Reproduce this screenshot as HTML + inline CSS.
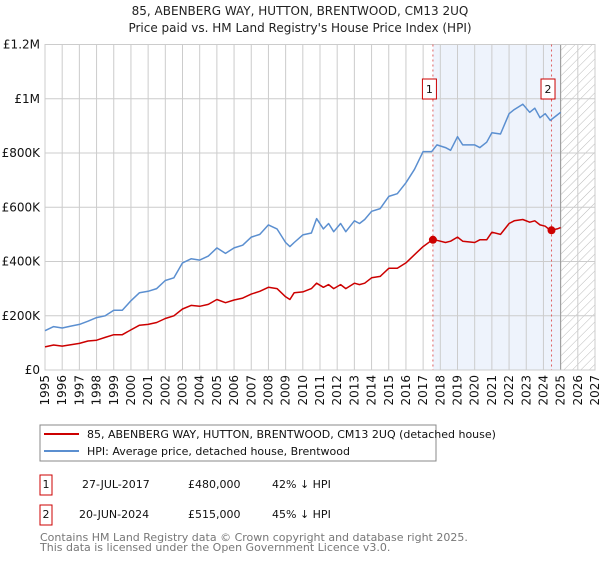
<!DOCTYPE html>
<html><head><meta charset="utf-8"><style>
body{margin:0;background:#fff;font-family:"Liberation Sans","DejaVu Sans",sans-serif;}
svg text{font-family:"DejaVu Sans","Liberation Sans",sans-serif;}
</style></head><body>
<svg id="c" width="600" height="560">
<defs><pattern id="hatch" width="6" height="6" patternUnits="userSpaceOnUse" patternTransform="rotate(45)"><line x1="0" y1="0" x2="0" y2="6" stroke="#bbb" stroke-width="1"/></pattern></defs>
<text x="300" y="15" text-anchor="middle" font-size="12" fill="#222">85, ABENBERG WAY, HUTTON, BRENTWOOD, CM13 2UQ</text>
<text x="300" y="32" text-anchor="middle" font-size="12" fill="#222">Price paid vs. HM Land Registry's House Price Index (HPI)</text>
<g id="plot"></g>
<rect x="40" y="425" width="396" height="36" fill="#fff" stroke="#888"/>
<line x1="44" y1="434" x2="79" y2="434" stroke="#cc0000" stroke-width="2"/>
<text x="87" y="438" font-size="11" fill="#111">85, ABENBERG WAY, HUTTON, BRENTWOOD, CM13 2UQ (detached house)</text>
<line x1="44" y1="451" x2="79" y2="451" stroke="#5b8fd0" stroke-width="2"/>
<text x="87" y="455" font-size="11" fill="#111">HPI: Average price, detached house, Brentwood</text>
<rect x="40" y="475" width="12" height="20" fill="#fff" stroke="#cc0000"/>
<text x="46" y="488" font-size="11" text-anchor="middle" fill="#111">1</text>
<text x="82" y="488" font-size="11" fill="#111">27-JUL-2017</text>
<text x="188" y="488" font-size="11" fill="#111">£480,000</text>
<text x="272" y="488" font-size="11" fill="#111">42% ↓ HPI</text>
<rect x="40" y="505" width="12" height="20" fill="#fff" stroke="#cc0000"/>
<text x="46" y="518" font-size="11" text-anchor="middle" fill="#111">2</text>
<text x="79" y="518" font-size="11" fill="#111">20-JUN-2024</text>
<text x="188" y="518" font-size="11" fill="#111">£515,000</text>
<text x="272" y="518" font-size="11" fill="#111">45% ↓ HPI</text>
<text x="40" y="541" font-size="11" fill="#777">Contains HM Land Registry data © Crown copyright and database right 2025.</text>
<text x="40" y="551" font-size="11" fill="#777">This data is licensed under the Open Government Licence v3.0.</text>
</svg>
<script>
const hpiYears=[1995,1995.5,1996,1996.5,1997,1997.5,1998,1998.5,1999,1999.5,2000,2000.5,2001,2001.5,2002,2002.5,2003,2003.5,2004,2004.5,2005,2005.5,2006,2006.5,2007,2007.5,2008,2008.5,2009,2009.25,2009.5,2010,2010.5,2010.8,2011.2,2011.5,2011.8,2012.2,2012.5,2013,2013.3,2013.6,2014,2014.5,2015,2015.5,2016,2016.5,2017,2017.5,2017.8,2018.3,2018.6,2019,2019.3,2020,2020.3,2020.7,2021,2021.5,2022,2022.3,2022.8,2023.2,2023.5,2023.8,2024.1,2024.4,2024.8,2025];
const hpiValues=[145,160,155,162,168,180,193,200,220,220,255,285,290,300,330,340,395,410,405,420,450,430,450,460,490,500,535,520,470,455,470,498,505,558,520,540,510,540,510,550,540,555,585,595,640,650,690,740,805,805,830,820,810,860,830,830,820,840,875,870,945,960,980,950,965,930,945,920,940,950];
const ppYears=hpiYears;
const ppValues=[85,92,88,93,98,107,110,120,130,130,148,165,168,175,190,200,225,238,235,242,260,248,258,265,280,290,305,300,270,260,285,288,300,320,305,315,300,315,300,320,315,320,340,345,375,375,395,425,455,478,478,470,475,490,475,470,480,480,508,500,540,550,555,545,550,535,530,515,520,525];
const saleYears=[2017.57,2024.47];
const saleValues=[480,515];
const saleLabels=["1","2"];
const yTicks=[0,200,400,600,800,1000,1200];
const yTickLabels=["£0","£200K","£400K","£600K","£800K","£1M","£1.2M"];
const xTicks=[1995,1996,1997,1998,1999,2000,2001,2002,2003,2004,2005,2006,2007,2008,2009,2010,2011,2012,2013,2014,2015,2016,2017,2018,2019,2020,2021,2022,2023,2024,2025,2026,2027];

const X0=45,X1=595,Y0=370,Y1=44.5;
const xs=y=>X0+(y-1995)/(2027-1995)*(X1-X0);
const ys=v=>Y0-v/1200*(Y0-Y1);
const NS="http://www.w3.org/2000/svg";
const g=document.getElementById('plot');
function mk(t,a,p){const e=document.createElementNS(NS,t);for(const k in a)e.setAttribute(k,a[k]);(p||g).appendChild(e);return e;}

let e=mk('rect',{x:xs(saleYears[0]),y:Y1,width:xs(2025)-xs(saleYears[0]),height:Y0-Y1,fill:'#eef3fc'});


e=mk('rect',{x:xs(2025),y:Y1,width:X1-xs(2025),height:Y0-Y1,fill:'url(#hatch)'});


yTicks.forEach((v,i)=>{
  mk('line',{x1:X0,x2:X1,y1:ys(v),y2:ys(v),stroke:'#ccc','stroke-width':1});
  const t=mk('text',{x:X0-5,y:ys(v)+4,'text-anchor':'end','font-size':12,fill:'#111'});
  t.textContent=yTickLabels[i];
  
  
});
xTicks.forEach(y=>{
  mk('line',{x1:xs(y),x2:xs(y),y1:Y1,y2:Y0,stroke:'#ccc','stroke-width':1});
  const t=mk('text',{x:0,y:0,'text-anchor':'end','font-size':12,fill:'#111',transform:`translate(${xs(y)+4},${Y0+5}) rotate(-90)`});
  t.textContent=y;
  
  
});
mk('line',{x1:xs(2025),x2:xs(2025),y1:Y1,y2:Y0,stroke:'#999','stroke-width':1});
mk('rect',{x:X0,y:Y1,width:X1-X0,height:Y0-Y1,fill:'none',stroke:'#ccc'});
saleYears.forEach((y,i)=>{
  e=mk('line',{x1:xs(y),x2:xs(y),y1:Y1,y2:Y0,stroke:'#e06060','stroke-dasharray':'2,3','stroke-width':1});
  
  
  const bx=xs(y)-3.5;
  e=mk('rect',{x:bx-7,y:79,width:14,height:20,fill:'#fff',stroke:'#cc0000'});
  
  
  const t=mk('text',{x:bx,y:93,'text-anchor':'middle','font-size':11,fill:'#111'});t.textContent=saleLabels[i];
});
function path(xsArr,vs,col,name){
  const d=xsArr.map((y,i)=>(i?'L':'M')+xs(y).toFixed(1)+','+ys(vs[i]).toFixed(1)).join('');
  const p=mk('path',{d,fill:'none',stroke:col,'stroke-width':1.5,'stroke-linejoin':'round'});
  
  
}
path(hpiYears,hpiValues,'#5b8fd0','hpi-line');
path(ppYears,ppValues,'#cc0000','property-line');
saleYears.forEach((y,i)=>{
  const c=mk('circle',{cx:xs(y),cy:ys(saleValues[i]),r:4,fill:'#cc0000'});
  
  
});
</script>
</body></html>
